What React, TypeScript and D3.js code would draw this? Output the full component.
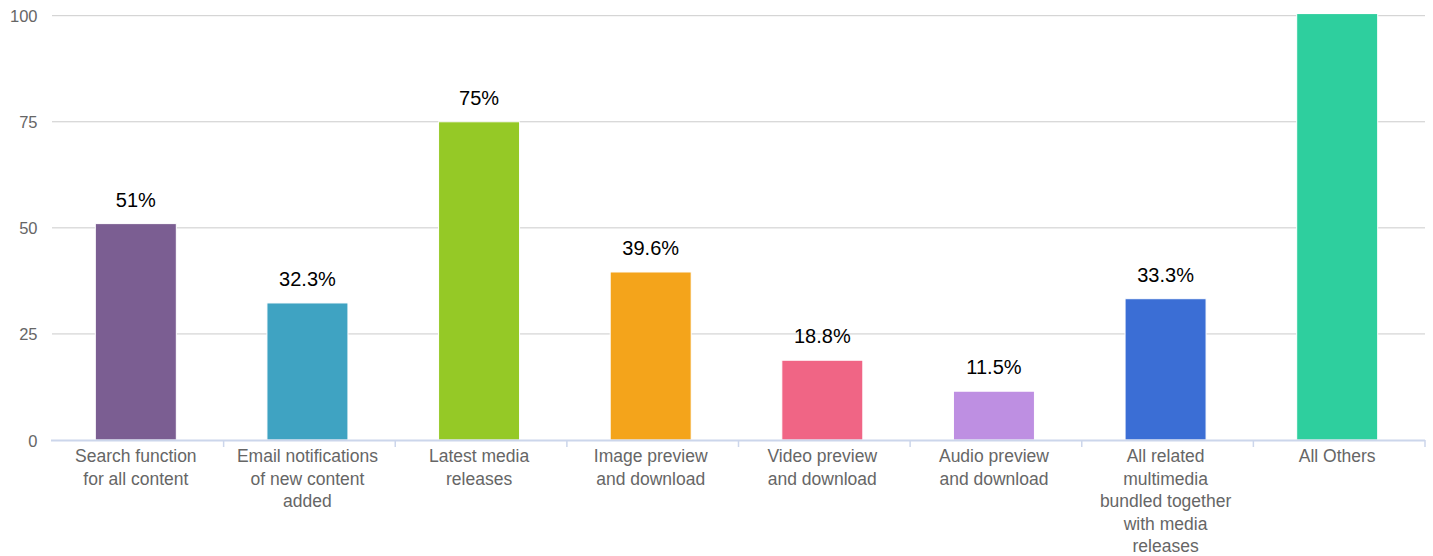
import React from "react";
import * as d3 from "d3";

const categories: string[][] = [
  ["Search function", "for all content"],
  ["Email notifications", "of new content", "added"],
  ["Latest media", "releases"],
  ["Image preview", "and download"],
  ["Video preview", "and download"],
  ["Audio preview", "and download"],
  ["All related", "multimedia", "bundled together", "with media", "releases"],
  ["All Others"],
];
const values: number[] = [51, 32.3, 75, 39.6, 18.8, 11.5, 33.3, 100.5];
const colors: string[] = [
  "#7B5E92",
  "#3FA3C2",
  "#95C926",
  "#F4A41B",
  "#F06585",
  "#BE8FE2",
  "#3B6ED5",
  "#2ECF9E",
];
const yTicks: number[] = [0, 25, 50, 75, 100];

const W = 1433;
const H = 556;
const left = 52;
const right = 1425;
const top = 15.7;
const bottom = 440;

export default function App() {
  const x = d3
    .scaleBand<number>()
    .domain(values.map((_, i) => i))
    .range([left, right])
    .paddingInner(0)
    .paddingOuter(0);
  const y = d3.scaleLinear().domain([0, 100]).range([bottom, top]);
  const bw = 81;
  const font = "'Liberation Sans', Arial, Helvetica, sans-serif";

  return (
    <svg
      width={W}
      height={H}
      style={{ position: "absolute", left: 0, top: 0, display: "block" }}
      fontFamily={font}
    >
      <defs>
        <clipPath id="plotclip">
          <rect x={left} y={14} width={right - left} height={bottom - 14} />
        </clipPath>
      </defs>
      <rect width={W} height={H} fill="#fff" />
      {yTicks.map((t) => (
        <g key={t}>
          {t !== 0 && (
            <line
              x1={left}
              x2={right}
              y1={y(t)}
              y2={y(t)}
              stroke="#cccccc"
              strokeWidth={1}
            />
          )}
          <text
            x={37.5}
            y={y(t) + 6.5}
            textAnchor="end"
            fontSize={16.5}
            fill="#666666"
          >
            {t}
          </text>
        </g>
      ))}
      <g clipPath="url(#plotclip)">
        {values.map((v, i) => {
          const cx = (x(i) as number) + x.bandwidth() / 2 - 2;
          return (
            <rect
              key={i}
              x={cx - bw / 2}
              y={y(v)}
              width={bw}
              height={bottom - y(v)}
              fill={colors[i]}
              stroke="#ffffff"
              strokeWidth={1}
            />
          );
        })}
      </g>
      {values.map((v, i) => {
        if (v > 100) return null;
        const cx = (x(i) as number) + x.bandwidth() / 2 - 2;
        return (
          <text
            key={i}
            x={cx}
            y={y(v) - 17}
            textAnchor="middle"
            fontSize={20}
            fill="#000000"
          >
            {`${v}%`}
          </text>
        );
      })}
      <line
        x1={left - 1}
        x2={right}
        y1={bottom + 0.5}
        y2={bottom + 0.5}
        stroke="#ccd6eb"
        strokeWidth={2}
      />
      {values.map((_, i) =>
        i === 0 ? null : (
          <line
            key={i}
            x1={x(i) as number}
            x2={x(i) as number}
            y1={bottom}
            y2={bottom + 7}
            stroke="#ccd6eb"
            strokeWidth={1.5}
          />
        )
      )}
      <line
        x1={right}
        x2={right}
        y1={bottom}
        y2={bottom + 7}
        stroke="#ccd6eb"
        strokeWidth={1.5}
      />
      {categories.map((lines, i) => {
        const cx = (x(i) as number) + x.bandwidth() / 2 - 2;
        return (
          <text
            key={i}
            x={cx}
            y={462}
            textAnchor="middle"
            fontSize={17.5}
            fill="#666666"
          >
            {lines.map((l, j) => (
              <tspan key={j} x={cx} dy={j === 0 ? 0 : 22.5}>
                {l}
              </tspan>
            ))}
          </text>
        );
      })}
    </svg>
  );
}
